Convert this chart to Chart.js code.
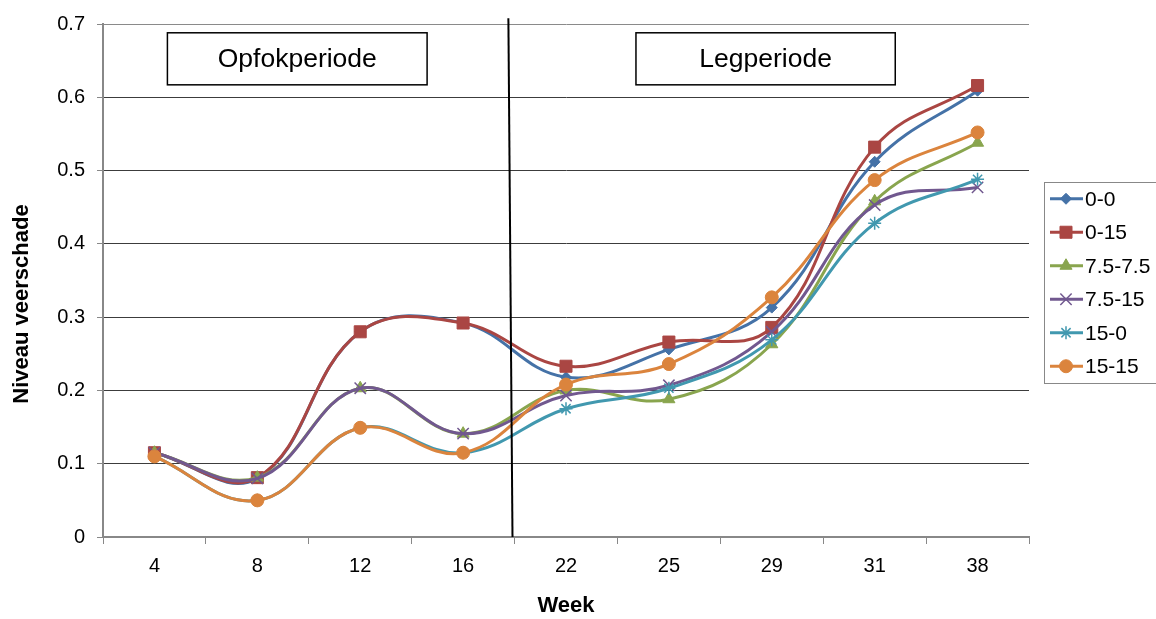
<!DOCTYPE html>
<html>
<head>
<meta charset="utf-8">
<script src="https://cdn.jsdelivr.net/npm/chart.js@4.4.0/dist/chart.umd.min.js"></script>
<style>
  html, body { margin: 0; padding: 0; background: #fff; }
  #wrap { width: 1156px; height: 619px; position: relative; }
</style>
</head>
<body>
<div id="wrap"><canvas id="c"></canvas></div>
<script>
// Weeks of measurement
const weeks = ['4', '8', '12', '16', '22', '25', '29', '31', '38'];

// Feather damage level per treatment group
const s0_0    = [0.115, 0.080, 0.280, 0.292, 0.218, 0.256, 0.313, 0.512, 0.609];
const s0_15   = [0.115, 0.081, 0.280, 0.292, 0.233, 0.266, 0.286, 0.532, 0.616];
const s75_75  = [0.115, 0.081, 0.203, 0.141, 0.200, 0.188, 0.263, 0.458, 0.538];
const s75_15  = [0.115, 0.080, 0.203, 0.141, 0.193, 0.207, 0.280, 0.453, 0.477];
const s15_0   = [0.110, 0.050, 0.149, 0.115, 0.175, 0.203, 0.269, 0.428, 0.488];
const s15_15  = [0.110, 0.050, 0.149, 0.115, 0.208, 0.236, 0.327, 0.487, 0.552];

const seriesNames = ['0-0', '0-15', '7.5-7.5', '7.5-15', '15-0', '15-15'];
const seriesData  = [s0_0, s0_15, s75_75, s75_15, s15_0, s15_15];

// Y axis ticks
const yTicks = [0, 0.1, 0.2, 0.3, 0.4, 0.5, 0.6, 0.7];

// Period labels
const periods = ['Opfokperiode', 'Legperiode'];

const FONT = '"Liberation Sans", Arial, sans-serif';
const colors = ['#4572A7', '#AA4643', '#89A54E', '#71588F', '#4198AF', '#DB843D'];
const styles = [
  { pointStyle: 'rectRot',  radius: 5.5, bw: 1 },
  { pointStyle: 'rect',     radius: 8.5, bw: 1 },
  { pointStyle: 'triangle', radius: 7,   bw: 1 },
  { pointStyle: 'crossRot', radius: 8,   bw: 1.5 },
  { pointStyle: 'star',     radius: 6.5, bw: 1.5 },
  { pointStyle: 'circle',   radius: 6.5, bw: 1 }
];

const datasets = seriesData.map((d, i) => ({
  label: seriesNames[i],
  data: d,
  borderColor: colors[i],
  backgroundColor: colors[i],
  borderWidth: 3,
  tension: 0.4,
  pointStyle: styles[i].pointStyle,
  pointRadius: styles[i].radius,
  pointHoverRadius: styles[i].radius,
  pointBorderWidth: styles[i].bw,
  pointBackgroundColor: colors[i],
  pointBorderColor: colors[i],
  order: seriesNames.length - i
}));

// Vertical divider between rearing and laying period, plus the period boxes
const periodPlugin = {
  id: 'periods',
  afterDatasetsDraw(chart) {
    const { ctx, scales: { x, y } } = chart;
    ctx.save();
    // divider
    ctx.strokeStyle = '#000';
    ctx.lineWidth = 2;
    ctx.beginPath();
    ctx.moveTo(x.getPixelForValue(3.44), y.getPixelForValue(0.708));
    ctx.lineTo(x.getPixelForValue(3.48), y.getPixelForValue(0));
    ctx.stroke();
    // boxes
    const boxes = [
      { x0: 0.126, x1: 2.65, text: periods[0] },
      { x0: 4.68,  x1: 7.20, text: periods[1] }
    ];
    boxes.forEach(b => {
      const l = x.getPixelForValue(b.x0), r = x.getPixelForValue(b.x1);
      const t = y.getPixelForValue(0.688), btm = y.getPixelForValue(0.617);
      ctx.fillStyle = '#fff';
      ctx.fillRect(l, t, r - l, btm - t);
      ctx.strokeStyle = '#000';
      ctx.lineWidth = 1.5;
      ctx.strokeRect(l, t, r - l, btm - t);
      ctx.fillStyle = '#000';
      ctx.font = '26.5px ' + FONT;
      ctx.textAlign = 'center';
      ctx.textBaseline = 'middle';
      ctx.fillText(b.text, (l + r) / 2, (t + btm) / 2 + 1);
    });
    ctx.restore();
  },
  afterDraw(chart) {
    const { ctx, chartArea } = chart;
    ctx.save();
    // y axis title
    ctx.translate(22, 304);
    ctx.rotate(-Math.PI / 2);
    ctx.fillStyle = '#000';
    ctx.font = 'bold 22px ' + FONT;
    ctx.textAlign = 'center';
    ctx.textBaseline = 'middle';
    ctx.fillText('Niveau veerschade', 0, 0);
    ctx.restore();

    // legend
    ctx.save();
    const rowH = 33.5;
    const n = chart.data.datasets.length;
    const boxL = chartArea.right + 15;
    const boxH = rowH * n;
    const cy = (chartArea.top + chartArea.bottom) / 2 + 2;
    const boxT = cy - boxH / 2;
    ctx.strokeStyle = '#888';
    ctx.lineWidth = 1;
    ctx.strokeRect(boxL + 0.5, boxT + 0.5, 200, boxH);
    ctx.font = '21px ' + FONT;
    ctx.textAlign = 'left';
    ctx.textBaseline = 'middle';
    chart.data.datasets.forEach((ds, i) => {
      const ry = boxT + rowH * (i + 0.5);
      ctx.strokeStyle = ds.borderColor;
      ctx.lineWidth = 3;
      ctx.beginPath();
      ctx.moveTo(boxL + 6, ry);
      ctx.lineTo(boxL + 39, ry);
      ctx.stroke();
      ctx.fillStyle = ds.borderColor;
      ctx.lineWidth = ds.pointBorderWidth;
      Chart.helpers.drawPoint(ctx, {
        pointStyle: ds.pointStyle, radius: ds.pointRadius, rotation: 0,
        borderWidth: ds.pointBorderWidth
      }, boxL + 22, ry);
      ctx.fillStyle = '#000';
      ctx.fillText(ds.label, boxL + 41, ry + 1);
    });
    ctx.restore();
  }
};

new Chart(document.getElementById('c'), {
  type: 'line',
  data: { labels: weeks, datasets },
  plugins: [periodPlugin],
  options: {
    responsive: true,
    maintainAspectRatio: false,
    animation: false,
    events: [],
    layout: { padding: { left: 0, right: 127, top: 18, bottom: 0 } },
    plugins: { legend: { display: false }, tooltip: { enabled: false } },
    scales: {
      x: {
        offset: true,
        afterFit: s => { s.height = 82; },
        grid: {
          display: true, drawOnChartArea: false, drawTicks: true,
          offset: true, tickLength: 7, tickColor: '#888', color: '#888'
        },
        border: { display: true, color: '#888', width: 2 },
        ticks: { color: '#000', padding: 10, font: { family: FONT, size: 20 }, maxRotation: 0 },
        title: {
          display: true, text: 'Week', color: '#000',
          font: { family: FONT, size: 22, weight: 'bold' },
          padding: { top: 0, bottom: 0 }
        }
      },
      y: {
        min: 0, max: 0.7,
        afterFit: s => { s.width = 103; },
        afterBuildTicks: s => { s.ticks = yTicks.map(v => ({ value: v })); },
        grid: {
          color: ctx => (ctx.tick && ctx.tick.value === 0.7) ? '#8a8a8a' : '#3c3c3c',
          lineWidth: 1, tickLength: 6, tickColor: '#888'
        },
        border: { display: true, color: '#888', width: 2 },
        ticks: {
          color: '#000', padding: 12,
          font: { family: FONT, size: 20 },
          callback: v => String(Math.round(v * 10) / 10)
        }
      }
    }
  }
});
</script>
</body>
</html>
